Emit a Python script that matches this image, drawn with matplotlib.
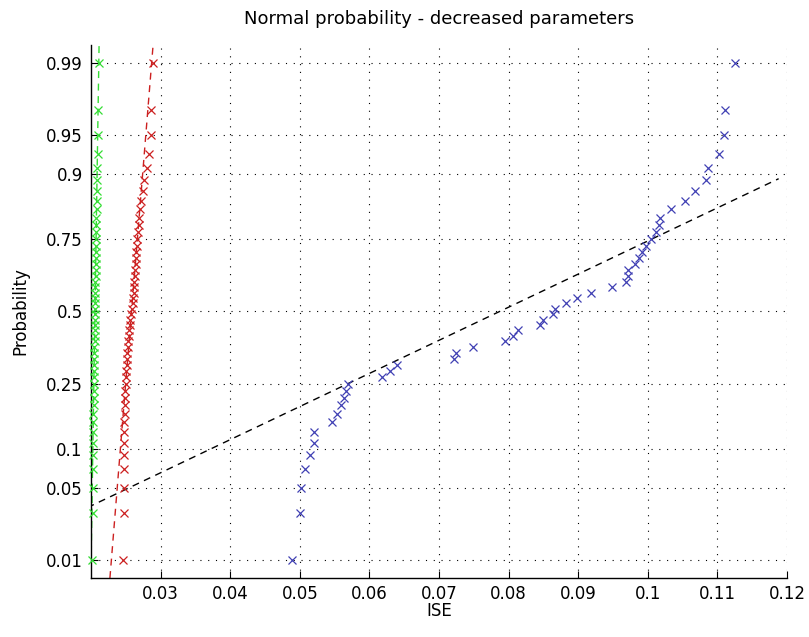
import numpy as np
import matplotlib
matplotlib.use("Agg")
import matplotlib.pyplot as plt
from matplotlib.ticker import NullLocator, FixedLocator, FixedFormatter
from statistics import NormalDist

# ---------------- data (sorted ISE values, 50 runs per setting) ----------------
ise_blue = [0.0489, 0.0501, 0.0502, 0.0508, 0.0514, 0.0520, 0.0521, 0.0546, 0.0554, 0.0559,
            0.0563, 0.0566, 0.0569, 0.0618, 0.0630, 0.0640, 0.0722, 0.0725, 0.0749, 0.0795,
            0.0806, 0.0814, 0.0845, 0.0850, 0.0864, 0.0867, 0.0882, 0.0898, 0.0919, 0.0949,
            0.0969, 0.0971, 0.0972, 0.0981, 0.0988, 0.0992, 0.0998, 0.1005, 0.1012, 0.1016,
            0.1017, 0.1034, 0.1053, 0.1068, 0.1084, 0.1087, 0.1103, 0.1110, 0.1111, 0.1126]

ise_red = [0.02477, 0.02469, 0.02473, 0.02473, 0.02473, 0.02460, 0.02470, 0.02476, 0.02484, 0.02485,
           0.02488, 0.02491, 0.02498, 0.02502, 0.02505, 0.02512, 0.02517, 0.02522, 0.02527, 0.02534,
           0.02541, 0.02548, 0.02555, 0.02565, 0.02577, 0.02594, 0.02603, 0.02608, 0.02613, 0.02617,
           0.02623, 0.02627, 0.02634, 0.02641, 0.02646, 0.02651, 0.02659, 0.02666, 0.02674, 0.02684,
           0.02692, 0.02706, 0.02723, 0.02742, 0.02763, 0.02799, 0.02835, 0.02857, 0.02864, 0.02885]

ise_green = [0.02020, 0.02022, 0.02024, 0.02027, 0.02028, 0.02030, 0.02031, 0.02033, 0.02034, 0.02036,
             0.02037, 0.02039, 0.02041, 0.02043, 0.02044, 0.02046, 0.02047, 0.02048, 0.02050, 0.02051,
             0.02052, 0.02053, 0.02055, 0.02056, 0.02057, 0.02058, 0.02059, 0.02061, 0.02062, 0.02063,
             0.02064, 0.02066, 0.02067, 0.02068, 0.02069, 0.02070, 0.02071, 0.02073, 0.02075, 0.02077,
             0.02079, 0.02081, 0.02083, 0.02086, 0.02089, 0.02093, 0.02097, 0.02100, 0.02096, 0.02110]

ytick_vals = [0.01, 0.05, 0.1, 0.25, 0.5, 0.75, 0.9, 0.95, 0.99]
ytick_labels = ["0.01", "0.05", "0.1", "0.25", "0.5", "0.75", "0.9", "0.95", "0.99"]
xtick_vals = [0.03, 0.04, 0.05, 0.06, 0.07, 0.08, 0.09, 0.10, 0.11, 0.12]
xtick_labels = ["0.03", "0.04", "0.05", "0.06", "0.07", "0.08", "0.09", "0.1", "0.11", "0.12"]

# ---------------- normal probability scale ----------------
ND = NormalDist()
_ppf = np.vectorize(ND.inv_cdf, otypes=[float])
_cdf = np.vectorize(ND.cdf, otypes=[float])


def fwd(p):
    p = np.clip(np.asarray(p, dtype=float), 1e-12, 1 - 1e-12)
    return _ppf(p)


def inv(z):
    return _cdf(np.asarray(z, dtype=float))


n = len(ise_blue)
prob = (np.arange(1, n + 1) - 0.5) / n   # normplot plotting positions

plt.rcParams["font.family"] = ["DejaVu Sans"]
fig = plt.figure(figsize=(8.09, 6.37), dpi=100)
ax = fig.add_axes([91 / 809, 1 - 578 / 637, (787 - 91) / 809, (578 - 45) / 637])
ax.set_yscale("function", functions=(fwd, inv))

Z_LO, Z_HI = -2.49, 2.49


def ref_line(vals, x_range=None):
    s = np.sort(vals)
    q1, q3 = s[12], s[37]
    z1, z3 = ND.inv_cdf(0.25), ND.inv_cdf(0.75)
    sig = (q3 - q1) / (z3 - z1)
    mu = (q1 + q3) / 2
    if x_range is None:
        x_range = (mu + Z_LO * sig, mu + Z_HI * sig)
    xs = np.array(x_range)
    zs = (xs - mu) / sig
    return xs, inv(zs)


series = [
    (ise_green, "#33dd33", "#33dd33", None),
    (ise_red, "#cc2020", "#cc2020", None),
    (ise_blue, "#4040b4", "black", (0.0195, 0.1188)),
]
for vals, mcol, lcol, xr in series:
    ax.plot(np.sort(vals), prob, linestyle="none", marker="x", ms=6, mew=0.9,
            color=mcol, clip_on=False, zorder=3)
    lx, ly = ref_line(vals, xr)
    ax.plot(lx, ly, linestyle=(0, (5, 4)), color=lcol, lw=1.0, zorder=2)

ax.set_xlim(0.02, 0.12)
ax.set_ylim(inv(Z_LO), inv(Z_HI))

ax.xaxis.set_major_locator(FixedLocator(xtick_vals))
ax.xaxis.set_major_formatter(FixedFormatter(xtick_labels))
ax.yaxis.set_major_locator(FixedLocator(ytick_vals))
ax.yaxis.set_major_formatter(FixedFormatter(ytick_labels))
ax.xaxis.set_minor_locator(NullLocator())
ax.yaxis.set_minor_locator(NullLocator())

ax.grid(True, linestyle=(0, (1, 6)), color="black", linewidth=0.8)
for sp in ("top", "right"):
    ax.spines[sp].set_visible(False)
for sp in ("left", "bottom"):
    ax.spines[sp].set_linewidth(1.0)
ax.tick_params(direction="in", length=5, labelsize=12)
ax.tick_params(axis="x", pad=5)
ax.tick_params(axis="y", pad=6)

ax.set_title("Normal probability - decreased parameters", fontsize=13, pad=15)
ax.set_xlabel("ISE", fontsize=12, labelpad=-1)
ax.set_ylabel("Probability", fontsize=12, labelpad=12)

fig.savefig("out.png", dpi=100)
